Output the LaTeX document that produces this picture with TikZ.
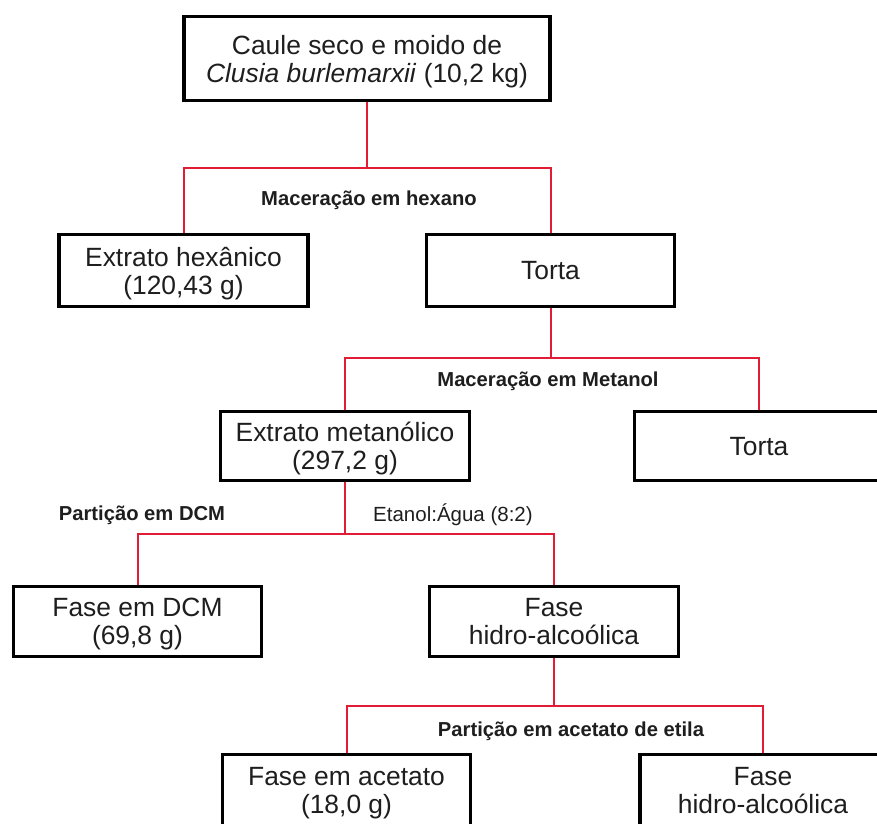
\documentclass[tikz,border=0pt]{standalone}
\usepackage{fontspec}
\setmainfont{Liberation Sans}
\definecolor{linkred}{RGB}{226,28,52}
\definecolor{txt}{RGB}{30,30,30}
\tikzset{
  box/.style={draw=black, line width=3.8pt, fill=white, inner sep=0pt, align=center,
    text=txt, text depth=0pt, font=\fontsize{26.4}{28}\selectfont},
  link/.style={draw=linkred, line width=2pt},
  blabel/.style={inner sep=0pt, text=txt, font=\fontsize{20.2}{22}\selectfont\bfseries},
  nlabel/.style={inner sep=0pt, text=txt, font=\fontsize{20.5}{22}\selectfont},
}
\begin{document}
\begin{tikzpicture}[x=1pt,y=-1pt]
\useasboundingbox (0,0) rectangle (877,823);
% boxes
\node[box, minimum width=366, minimum height=84, text depth=-4pt] (top) at (367,58.5)
  {Caule seco e moido de\\\textit{Clusia burlemarxii} (10,2 kg)};
\node[box, minimum width=249, minimum height=72] (hex) at (183.5,270.5)
  {Extrato hexânico\\(120,43 g)};
\node[box, minimum width=248, minimum height=72] (torta1) at (550.5,270.5) {Torta};
\node[box, minimum width=249, minimum height=69] (metan) at (345,446)
  {Extrato metanólico\\(297,2 g)};
\node[box, minimum width=249, minimum height=69] (torta2) at (759,446) {Torta};
\node[box, minimum width=248, minimum height=70] (dcm) at (137.5,621.5)
  {Fase em DCM\\(69,8 g)};
\node[box, minimum width=249, minimum height=70] (hidro1) at (554,621.5)
  {Fase\\hidro-alcoólica};
\node[box, minimum width=248, minimum height=72] (acet) at (346.5,790.5)
  {Fase em acetato\\(18,0 g)};
\node[box, minimum width=246, minimum height=72] (hidro2) at (763,790.5)
  {Fase\\hidro-alcoólica};
% junctions
\coordinate (j1) at (367,168);
\coordinate (j2) at (550.5,358);
\coordinate (j3) at (345,534);
\coordinate (j4) at (554,706);
% connectors
\draw[link] (top.south) -- (j1);
\draw[link] (hex.north) |- (j1);
\draw[link] (torta1.north) |- (j1);
\draw[link] (torta1.south) -- (j2);
\draw[link] (metan.north) |- (j2);
\draw[link] (torta2.north) |- (j2);
\draw[link] (metan.south) -- (j3);
\draw[link] (dcm.north) |- (j3);
\draw[link] (hidro1.north) |- (j3);
\draw[link] (hidro1.south) -- (j4);
\draw[link] (acet.north) |- (j4);
\draw[link] (hidro2.north) |- (j4);
% labels
\node[blabel] (l1) at (369,200) {Maceração em hexano};
\node[blabel] (l2) at (548,381) {Maceração em Metanol};
\node[blabel] (l3) at (142,515) {Partição em DCM};
\node[nlabel, anchor=west] (l4) at (373,515) {Etanol:Água (8:2)};
\node[blabel] (l5) at (571,731) {Partição em acetato de etila};
\end{tikzpicture}
\end{document}
